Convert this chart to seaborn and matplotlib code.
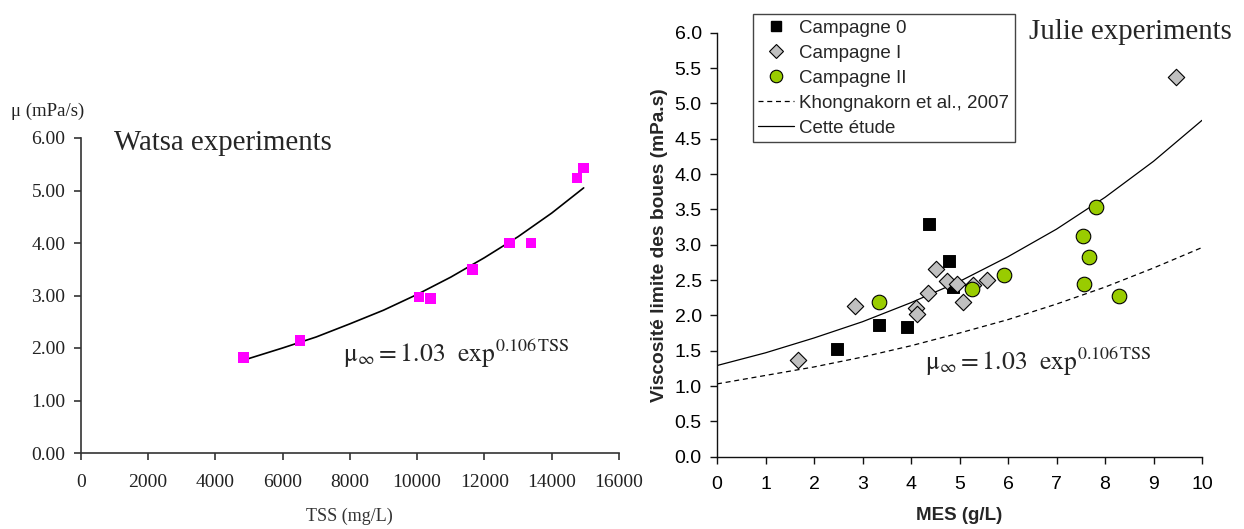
import numpy as np
import pandas as pd
import matplotlib
matplotlib.use("Agg")
import matplotlib.pyplot as plt
from matplotlib.lines import Line2D
import seaborn as sns

# ---------------- data ----------------
watsa_tss = [4845, 6516, 10053, 10392, 11640, 12754, 13384, 14753, 14935]
watsa_mu = [1.82, 2.15, 2.97, 2.95, 3.50, 4.00, 4.00, 5.24, 5.43]
watsa_fit_tss = [4900, 6000, 7000, 8000, 9000, 10000, 11000, 12000, 13000, 14000, 14950]
watsa_fit_mu = [1.78, 2.00, 2.21, 2.46, 2.72, 3.02, 3.35, 3.72, 4.12, 4.57, 5.05]

c0_mes = [2.47, 3.35, 3.91, 4.38, 4.79, 4.86]
c0_visc = [1.52, 1.86, 1.83, 3.30, 2.77, 2.40]
c1_mes = [1.67, 2.84, 4.10, 4.12, 4.35, 4.52, 4.74, 4.94, 5.08, 5.28, 5.56, 9.46]
c1_visc = [1.37, 2.13, 2.10, 2.02, 2.31, 2.66, 2.49, 2.44, 2.19, 2.43, 2.50, 5.37]
c2_mes = [3.35, 5.25, 5.92, 7.55, 7.66, 7.57, 7.81, 8.28]
c2_visc = [2.19, 2.37, 2.57, 3.12, 2.82, 2.44, 3.53, 2.28]

curve_mes = [0, 1, 2, 3, 4, 5, 6, 7, 8, 9, 10]
khong_visc = [1.03, 1.15, 1.27, 1.41, 1.57, 1.75, 1.94, 2.16, 2.40, 2.67, 2.96]
etude_visc = [1.29, 1.47, 1.68, 1.91, 2.18, 2.48, 2.83, 3.22, 3.67, 4.18, 4.76]

left_xticks = [0, 2000, 4000, 6000, 8000, 10000, 12000, 14000, 16000]
left_yticks = [0, 1, 2, 3, 4, 5, 6]
right_xticks = [0, 1, 2, 3, 4, 5, 6, 7, 8, 9, 10]
right_yticks = [0, 0.5, 1, 1.5, 2, 2.5, 3, 3.5, 4, 4.5, 5, 5.5, 6]

legend_labels = ["Campagne 0", "Campagne I", "Campagne II",
                 "Khongnakorn et al., 2007", "Cette étude"]

# ---------------- style ----------------
sns.set_style("ticks")
plt.rcParams["font.family"] = ["Liberation Sans", "DejaVu Sans"]
plt.rcParams["mathtext.fontset"] = "stix"

W, H = 1244, 529
fig = plt.figure(figsize=(W / 100, H / 100), dpi=100)

def fx(px):
    return px / W

def fy(py):
    return 1 - py / H

serif = ["Liberation Serif", "DejaVu Serif"]
sans = ["Liberation Sans", "DejaVu Sans"]
eq = r"$\mathrm{\mu}_{\infty} = 1.03\ \ \mathrm{exp}^{0.106\,\mathrm{TSS}}$"

# ---------------- left panel ----------------
axL = fig.add_axes([fx(80.7), fy(453), fx(619) - fx(80.7), fy(138) - fy(453)])
sns.lineplot(x=watsa_fit_tss, y=watsa_fit_mu, ax=axL, color="black", lw=1.2,
             sort=False)
sns.scatterplot(x=watsa_tss, y=watsa_mu, ax=axL, marker="s", s=60,
                color="#FF00FF", edgecolor="none", linewidth=0, zorder=3)
axL.set_xlim(0, 16000)
axL.set_ylim(0, 6)
axL.set_xticks(left_xticks)
axL.set_yticks(left_yticks)
axL.set_xticklabels([str(v) for v in left_xticks], family=serif, fontsize=14)
axL.set_yticklabels([f"{v:.2f}" for v in left_yticks], family=serif, fontsize=14)
for s in ["top", "right"]:
    axL.spines[s].set_visible(False)
for s in ["left", "bottom"]:
    axL.spines[s].set_color("#333333")
    axL.spines[s].set_linewidth(1.2)
axL.tick_params(direction="out", length=5, width=1.2, color="#333333",
                labelcolor="#222222")
axL.tick_params(axis="y", pad=6)
axL.tick_params(axis="x", pad=10)
axL.set_xlabel("TSS (mg/L)", family=serif, fontsize=13, color="#333333",
               labelpad=12)
axL.set_ylabel("")
fig.text(fx(11), fy(111), "μ (mPa/s)", family=serif, fontsize=13.5,
         ha="left", va="center", color="#222222")
fig.text(fx(114), fy(143), "Watsa experiments", family=serif, fontsize=20.8,
         ha="left", va="center")
axL.text(7800, 1.74, eq, fontsize=18.5, ha="left", va="baseline")

# ---------------- right panel ----------------
axR = fig.add_axes([fx(717), fy(456.7), fx(1202) - fx(717), fy(32.7) - fy(456.7)])
sns.lineplot(x=curve_mes, y=khong_visc, ax=axR, color="black", lw=0.9,
             linestyle=(0, (4, 3)), sort=False)
sns.lineplot(x=curve_mes, y=etude_visc, ax=axR, color="black", lw=0.9,
             sort=False)
sns.scatterplot(x=c0_mes, y=c0_visc, ax=axR, marker="s", s=70,
                color="black", edgecolor="black", zorder=3)
sns.scatterplot(x=c1_mes, y=c1_visc, ax=axR, marker="D", s=70,
                color="#C0C0C0", edgecolor="black", linewidth=0.8, zorder=3)
sns.scatterplot(x=c2_mes, y=c2_visc, ax=axR, marker="o", s=110,
                color="#99CC00", edgecolor="black", linewidth=0.8, zorder=4)
axR.set_xlim(0, 10)
axR.set_ylim(0, 6)
axR.set_xticks(right_xticks)
axR.set_yticks(right_yticks)
axR.set_xticklabels([str(v) for v in right_xticks], family=sans, fontsize=14)
axR.set_yticklabels([f"{v:.1f}" for v in right_yticks], family=sans, fontsize=14)
for s in ["top", "right"]:
    axR.spines[s].set_visible(False)
for s in ["left", "bottom"]:
    axR.spines[s].set_color("#111111")
    axR.spines[s].set_linewidth(1.0)
axR.tick_params(direction="out", length=5, width=1.0, color="#111111",
                labelcolor="black")
axR.tick_params(axis="y", pad=6)
axR.tick_params(axis="x", pad=9)
axR.set_xlabel("MES (g/L)", family=sans, fontsize=13.5, fontweight="bold",
               labelpad=10)
axR.set_ylabel("Viscosité limite des boues (mPa.s)", family=sans, fontsize=13.8,
               fontweight="bold", labelpad=5)
axR.text(4.29, 1.23, eq, fontsize=18.5, ha="left", va="baseline")
fig.text(fx(1029), fy(32), "Julie experiments", family=serif, fontsize=20.8,
         ha="left", va="center")

handles = [
    Line2D([], [], ls="none", marker="s", ms=7, mfc="black", mec="black"),
    Line2D([], [], ls="none", marker="D", ms=7, mfc="#C0C0C0", mec="black", mew=0.8),
    Line2D([], [], ls="none", marker="o", ms=9, mfc="#99CC00", mec="black", mew=0.8),
    Line2D([], [], color="black", lw=0.9, ls=(0, (4, 3))),
    Line2D([], [], color="black", lw=0.9),
]
leg = axR.legend(handles, legend_labels, loc="upper left",
                 bbox_to_anchor=(fx(752.6), fy(14)), bbox_transform=fig.transFigure,
                 borderaxespad=0, fancybox=False, framealpha=1, edgecolor="#444444",
                 prop={"family": sans, "size": 13.5}, handlelength=1.9,
                 handletextpad=0.3, labelspacing=0.42, borderpad=0.3)
leg.get_frame().set_linewidth(1.0)

fig.savefig("out.png", dpi=100)
